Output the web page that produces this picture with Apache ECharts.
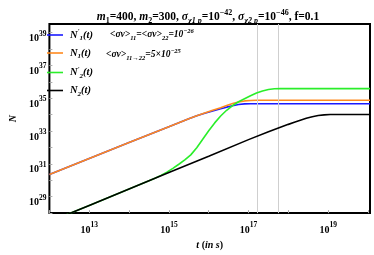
<!DOCTYPE html>
<html><head><meta charset="utf-8">
<script src="https://cdn.jsdelivr.net/npm/echarts@6/dist/echarts.min.js"></script>
<style>html,body{margin:0;padding:0;background:#fff}#c{width:374px;height:255px}</style>
</head><body><div id="c"></div>
<script>
// values are [log10(t / s), log10(N)]
const seriesNames = ["N'1(t)", "N1(t)", "N'2(t)", "N2(t)"];
const nPrime1 = [[12,30.36],[13,31.33],[14,32.3],[15,33.27],[15.5,33.75],[15.7,33.93],[15.9,34.09],[16.1,34.23],[16.3,34.36],[16.45,34.46],[16.6,34.55],[16.75,34.62],[16.9,34.66],[17.05,34.67],[17.2,34.67],[20.05,34.67]];
const n1 = [[12,30.36],[13,31.33],[14,32.3],[15,33.27],[15.5,33.75],[15.7,33.93],[15.9,34.1],[16.1,34.27],[16.3,34.43],[16.45,34.56],[16.6,34.68],[16.75,34.78],[16.9,34.84],[17.05,34.87],[17.2,34.88],[20.05,34.88]];
const nPrime2 = [[12,27.47],[13,28.47],[14,29.47],[14.5,29.97],[14.65,30.13],[14.8,30.3],[14.95,30.5],[15.1,30.73],[15.25,30.98],[15.4,31.24],[15.55,31.55],[15.7,31.98],[15.85,32.5],[16.0,33.02],[16.15,33.5],[16.3,33.92],[16.45,34.27],[16.6,34.56],[16.75,34.79],[16.9,34.97],[17.05,35.15],[17.2,35.32],[17.35,35.45],[17.5,35.54],[17.65,35.58],[17.8,35.59],[20.05,35.59]];
const n2 = [[12,27.47],[13,28.47],[14,29.47],[15,30.47],[16,31.47],[17,32.48],[17.5,32.96],[17.8,33.23],[18.0,33.41],[18.15,33.54],[18.3,33.66],[18.45,33.78],[18.6,33.88],[18.75,33.95],[18.9,33.99],[19.05,34.01],[20.05,34.01]];
const seriesColors = ['#1a1aff', '#ff8a1e', '#2aee2a', '#000000'];
const verticalLines = [17.22, 17.74];
const xTickLabels = [13, 15, 17, 19];
const yTickLabels = [29, 31, 33, 35, 37, 39];

const serif = '"Liberation Serif","DejaVu Serif",serif';
const richBase = {
  n: {fontFamily: serif, fontSize: 10, fontWeight: 'bold', color: '#000', lineHeight: 14, verticalAlign: 'bottom'},
  s: {fontFamily: serif, fontSize: 7.5, fontWeight: 'bold', color: '#000', lineHeight: 14, verticalAlign: 'top'}
};
const legendRich = {
  i: {fontFamily: serif, fontSize: 10.5, fontWeight: 'bold', fontStyle: 'italic', color: '#000', lineHeight: 14},
  b: {fontFamily: serif, fontSize: 7, fontWeight: 'bold', fontStyle: 'italic', color: '#000', lineHeight: 14, verticalAlign: 'bottom', padding: [4,0,0,0]},
  p: {fontFamily: serif, fontSize: 7, fontWeight: 'bold', fontStyle: 'italic', color: '#000', lineHeight: 14, verticalAlign: 'top'}
};
const legendText = {
  "N'1(t)": "{i|N}{p|'}{b|1}{i|(t)}",
  "N1(t)": "{i|N}{b|1}{i|(t)}",
  "N'2(t)": "{i|N}{p|'}{b|2}{i|(t)}",
  "N2(t)": "{i|N}{b|2}{i|(t)}"
};
const titleRich = {
  i: {fontFamily: serif, fontSize: 11.5, fontWeight: 'bold', fontStyle: 'italic', color: '#000', lineHeight: 16},
  t: {fontFamily: serif, fontSize: 11.5, fontWeight: 'bold', color: '#000', lineHeight: 16},
  b: {fontFamily: serif, fontSize: 8, fontWeight: 'bold', color: '#000', lineHeight: 16, verticalAlign: 'bottom'},
  bi: {fontFamily: serif, fontSize: 8, fontWeight: 'bold', fontStyle: 'italic', color: '#000', lineHeight: 16, verticalAlign: 'bottom'},
  p: {fontFamily: serif, fontSize: 8, fontWeight: 'bold', color: '#000', lineHeight: 16, verticalAlign: 'top'}
};
const annRich = {
  i: {fontFamily: serif, fontSize: 9.5, fontWeight: 'bold', fontStyle: 'italic', color: '#000', lineHeight: 14},
  b: {fontFamily: serif, fontSize: 6.5, fontWeight: 'bold', fontStyle: 'italic', color: '#000', lineHeight: 14, verticalAlign: 'bottom'},
  p: {fontFamily: serif, fontSize: 6.5, fontWeight: 'bold', fontStyle: 'italic', color: '#000', lineHeight: 14, verticalAlign: 'top'}
};

const allData = [nPrime1, n1, nPrime2, n2];
const series = allData.map((d, k) => ({
  name: seriesNames[k], type: 'line', data: d, symbol: 'none', smooth: false,
  lineStyle: {color: seriesColors[k], width: 1.6}, itemStyle: {color: seriesColors[k]}, clip: true,
  z: 3 + k
}));
series.unshift({
  type: 'line', data: [], silent: true,
  markLine: {symbol: 'none', silent: true, label: {show: false},
    lineStyle: {color: '#cfcfcf', width: 1, type: 'solid'},
    data: verticalLines.map(v => ({xAxis: v}))}
});

const chart = echarts.init(document.getElementById('c'), null, {renderer: 'canvas'});
chart.setOption({
  animation: false,
  backgroundColor: '#fff',
  title: {
    text: "{i|m}{b|1}{t|=400, }{i|m}{b|2}{t|=300, }{i|σ}{bi|χ1 p}{t|=10}{p|−42}{t|, }{i|σ}{bi|χ2 p}{t|=10}{p|−46}{t|, f=0.1}",
    left: 203, top: 4, textAlign: 'center',
    textStyle: {rich: titleRich}
  },
  grid: {left: 36, right: 4, top: 24, bottom: 31, show: true, borderColor: '#000', borderWidth: 2, backgroundColor: 'transparent'},
  legend: {
    orient: 'vertical', left: 42, top: 23, itemWidth: 16, itemHeight: 1.6, itemGap: 5.5,
    icon: 'rect',
    data: seriesNames.map((n, k) => ({name: n, itemStyle: {color: seriesColors[k]}})),
    selectedMode: false,
    formatter: n => legendText[n],
    textStyle: {rich: legendRich, padding: [0,0,0,2]}
  },
  graphic: [
    {type: 'text', left: 110, top: 28, style: {text: "{i|<σv>}{b|11}{i|=<σv>}{b|22}{i|=10}{p|−26}", rich: annRich}},
    {type: 'text', left: 106, top: 48, style: {text: "{i|<σv>}{b|11→22}{i|=5×10}{p|−25}", rich: annRich}}
  ],
  xAxis: {
    type: 'value', min: 12, max: 20.05, interval: 1,
    name: '{i|t}{t| (}{i|in s}{t|)}', nameLocation: 'middle', nameGap: 23,
    nameTextStyle: {rich: {
      i: {fontFamily: serif, fontSize: 10, fontWeight: 'bold', fontStyle: 'italic', color: '#000'},
      t: {fontFamily: serif, fontSize: 10, fontWeight: 'bold', color: '#000'}}},
    axisLine: {show: false},
    axisTick: {show: true, inside: true, length: 3, lineStyle: {color: '#aaa'}},
    splitLine: {show: false},
    axisLabel: {margin: 8, showMaxLabel: false,
      formatter: v => xTickLabels.includes(v) ? '{n|10}{s|' + v + '}' : '',
      rich: richBase}
  },
  yAxis: {
    type: 'value', min: 28, max: 39.53, interval: 1,
    name: 'N', nameLocation: 'middle', nameGap: 21, nameRotate: 90,
    nameTextStyle: {fontFamily: serif, fontSize: 10, fontWeight: 'bold', fontStyle: 'italic', color: '#000'},
    axisLine: {show: false},
    axisTick: {show: true, inside: true, length: 3, lineStyle: {color: '#aaa'}},
    splitLine: {show: false},
    axisLabel: {margin: 3, showMaxLabel: false, padding: [8,0,0,0],
      formatter: v => yTickLabels.includes(v) ? '{n|10}{s|' + v + '}' : '',
      rich: richBase}
  },
  series: series
});
</script></body></html>
